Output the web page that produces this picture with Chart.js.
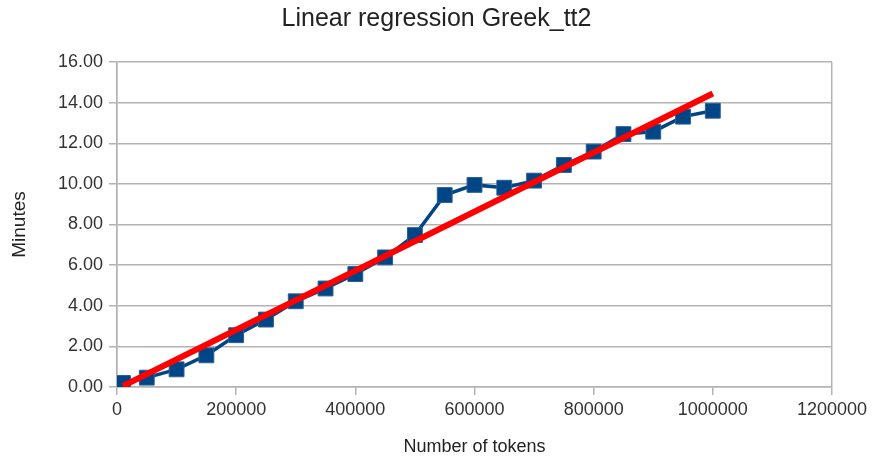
<!DOCTYPE html>
<html lang="en">
<head>
    <meta charset="UTF-8">
    <title>Linear regression Greek_tt2</title>
    <script src="https://cdn.jsdelivr.net/npm/chart.js"></script>
    <style>
        html, body { margin: 0; padding: 0; background: #fff; }
        #wrap { width: 873px; height: 464px; }
    </style>
</head>
<body>
    <div id="wrap"><canvas id="myChart" width="873" height="464"></canvas></div>

    <script>
        // measured points
        var tokens = [10000, 50000, 100000, 150000, 200000, 250000, 300000, 350000, 400000, 450000, 500000,
                      550000, 600000, 650000, 700000, 750000, 800000, 850000, 900000, 950000, 1000000];
        var minutes = [0.20, 0.46, 0.87, 1.56, 2.55, 3.32, 4.22, 4.85, 5.56, 6.38, 7.48,
                       9.45, 9.95, 9.81, 10.16, 10.93, 11.59, 12.45, 12.57, 13.31, 13.60];

        // trend line end points
        var trendX = [10000, 1000000];
        var trendY = [0.05, 14.45];

        var xTicks = [0, 200000, 400000, 600000, 800000, 1000000, 1200000];
        var yTicks = [0, 2, 4, 6, 8, 10, 12, 14, 16];

        var pts = [];
        for (var i in tokens) pts.push({x: tokens[i], y: minutes[i]});
        var trend = [];
        for (var j in trendX) trend.push({x: trendX[j], y: trendY[j]});

        Chart.defaults.font.family = "'Liberation Sans', Arial, sans-serif";
        Chart.defaults.color = '#333';

        const gridGray = '#b3b3b3';

        const config = {
            type: 'scatter',
            data: {
                datasets: [{
                    label: 'Trend',
                    data: trend,
                    showLine: true,
                    borderColor: '#ff0000',
                    borderWidth: 6,
                    pointRadius: 0,
                    order: 0
                },
                {
                    label: 'Minutes',
                    data: pts,
                    showLine: true,
                    borderColor: '#004586',
                    borderWidth: 3.5,
                    pointStyle: 'rect',
                    pointRadius: 10.5,
                    backgroundColor: '#004586',
                    pointBorderColor: '#2b5f97',
                    pointBorderWidth: 1,
                    order: 1
                }]
            },
            options: {
                responsive: false,
                animation: false,
                layout: { padding: { top: 4, left: 8, right: 8, bottom: 6 } },
                plugins: {
                    legend: { display: false },
                    tooltip: { enabled: false },
                    title: {
                        display: true,
                        text: 'Linear regression Greek_tt2',
                        color: '#222',
                        font: { size: 25, weight: 'normal' },
                        padding: { top: 0, bottom: 28 }
                    }
                },
                scales: {
                    x: {
                        type: 'linear',
                        min: 0,
                        max: 1200000,
                        afterBuildTicks: function(scale) {
                            scale.ticks = xTicks.map(function(v) { return {value: v}; });
                        },
                        ticks: {
                            color: '#333',
                            font: { size: 18 },
                            padding: 4,
                            maxRotation: 0,
                            callback: function(v) { return String(v); }
                        },
                        grid: {
                            tickLength: 8,
                            tickColor: gridGray,
                            lineWidth: 1.5,
                            color: function(ctx) {
                                if (ctx.tick && (ctx.tick.value === 0 || ctx.tick.value === 1200000)) return gridGray;
                                return 'rgba(0,0,0,0)';
                            }
                        },
                        border: { color: gridGray, width: 1.5 },
                        title: {
                            display: true,
                            text: 'Number of tokens',
                            color: '#222',
                            font: { size: 18 },
                            padding: { top: 14, bottom: 0 }
                        },
                        afterFit: function(scale) {
                            scale.height = 71;
                            scale.paddingRight = 41;
                        }
                    },
                    y: {
                        type: 'linear',
                        min: 0,
                        max: 16,
                        afterBuildTicks: function(scale) {
                            scale.ticks = yTicks.map(function(v) { return {value: v}; });
                        },
                        ticks: {
                            color: '#333',
                            font: { size: 18 },
                            padding: 6,
                            callback: function(v) { return v.toFixed(2); }
                        },
                        grid: {
                            tickLength: 8,
                            tickColor: gridGray,
                            color: gridGray,
                            lineWidth: 1.5
                        },
                        border: { color: gridGray, width: 1.5 },
                        title: {
                            display: true,
                            text: 'Minutes',
                            color: '#222',
                            font: { size: 19 },
                            padding: { top: 0, bottom: 8 }
                        },
                        afterFit: function(scale) { scale.width = 109; }
                    }
                }
            }
        };

        var myChart = new Chart(document.getElementById('myChart'), config);
    </script>
</body>
</html>
